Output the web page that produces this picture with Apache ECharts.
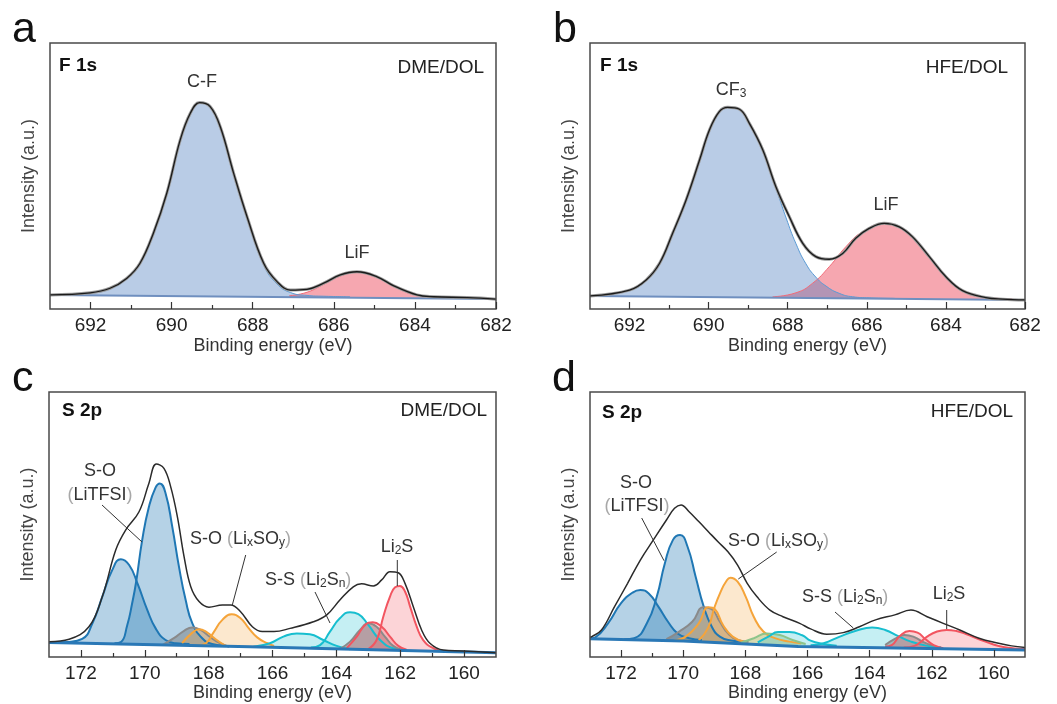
<!DOCTYPE html>
<html>
<head>
<meta charset="utf-8">
<title>XPS F 1s / S 2p</title>
<script src="https://cdn.jsdelivr.net/npm/echarts@6/dist/echarts.min.js"></script>
<style>
  html, body { margin: 0; padding: 0; background: #fff; }
  #chart { width: 1057px; height: 704px; }
</style>
</head>
<body>
<div id="chart"></div>
<script>
// tick values
var fTicks = [682, 684, 686, 688, 690, 692];
var fMinor = [683, 685, 687, 689, 691];
var sTicks = [160, 162, 164, 166, 168, 170, 172];
var sMinor = [161, 163, 165, 167, 169, 171];

// (a) F 1s, DME/DOL  -- [binding energy, intensity]
var aEnvelope = [[693,5.3],[692.01,6.1],[691.52,7.8],[691.11,11.5],[690.78,17.2],[690.45,28.5],[690.12,43.5],[689.79,63.5],[689.54,73.6],[689.31,77.6],[689.05,76.1],[688.80,68.5],[688.47,51.0],[688.14,34.7],[687.73,17.2],[687.40,10.3],[687.07,7.1],[686.66,7.4],[686.25,9.7],[685.84,12.8],[685.43,14.0],[684.93,12.1],[684.52,8.7],[683.95,5.3],[683.54,4.6],[682.71,4.3],[682,3.7]];
var aCF = [[693,5.3],[692.01,6.0],[691.52,7.6],[691.11,11.3],[690.78,17.0],[690.45,28.3],[690.12,43.3],[689.79,63.3],[689.54,73.3],[689.31,77.3],[689.05,75.8],[688.80,68.3],[688.47,50.8],[688.14,34.4],[687.73,16.6],[687.40,9.4],[687.07,6.2],[686.66,5.1],[686.25,4.8],[685.6,4.6]];
var aLiF = [[687.1,5.0],[686.66,6.3],[686.25,9.3],[685.84,12.4],[685.43,13.8],[684.93,12.0],[684.52,8.5],[683.95,5.2],[683.54,4.6],[683.0,4.3]];
var aBase = [[693,5.3],[682,3.8]];

// (b) F 1s, HFE/DOL
var bEnvelope = [[693,4.9],[692.00,7.1],[691.58,10.9],[691.24,17.2],[690.91,28.5],[690.57,41.0],[690.23,56.0],[689.98,67.3],[689.73,74.2],[689.52,75.8],[689.22,75.1],[688.97,69.8],[688.63,59.8],[688.30,46.0],[687.96,34.7],[687.62,24.7],[687.29,19.7],[686.95,18.7],[686.61,20.9],[686.28,26.6],[685.94,30.3],[685.56,32.2],[685.18,30.9],[684.85,27.2],[684.42,19.7],[684.00,12.1],[683.58,6.9],[682.99,4.3],[682.57,3.7],[682,3.4]];
var bCF3 = [[693,4.9],[692.00,7.0],[691.58,10.7],[691.24,17.0],[690.91,28.3],[690.57,40.8],[690.23,55.8],[689.98,67.1],[689.73,74.0],[689.52,75.6],[689.22,74.9],[688.97,69.5],[688.63,59.4],[688.30,45.5],[688.04,34.2],[687.79,24.5],[687.54,17.0],[687.29,12.0],[687.03,8.6],[686.70,5.9],[686.36,4.6],[685.94,4.2],[685.3,4.0]];
var bLiF = [[688.38,4.6],[687.79,6.1],[687.37,9.7],[686.95,15.9],[686.53,23.4],[686.11,29.0],[685.56,32.0],[685.18,30.8],[684.85,27.0],[684.42,19.5],[684.00,12.0],[683.58,6.8],[682.99,4.4],[682.32,3.8]];
var bBase = [[693,4.9],[682,3.4]];

// (c) S 2p, DME/DOL
var cEnvelope = [[173,5.8],[172.37,6.7],[171.75,11.4],[171.33,22.8],[170.91,40.4],[170.60,47.9],[170.18,54.8],[169.87,65.6],[169.64,72.8],[169.40,71.2],[169.19,64.3],[168.98,53.0],[168.77,37.9],[168.56,26.5],[168.30,20.9],[167.99,18.8],[167.57,19.6],[167.31,19.6],[167.00,17.1],[166.63,11.4],[166.32,9.6],[165.95,9.6],[165.45,10.8],[164.72,13.3],[164.30,15.9],[163.89,21.5],[163.47,26.5],[163.21,27.6],[162.84,26.8],[162.58,29.1],[162.32,32.2],[162.06,31.8],[161.85,27.8],[161.59,19.0],[161.33,10.2],[161.07,5.2],[160.65,2.6],[160.02,2.3],[159,1.6]];
var cTfsi1 = [[173,5.5],[172.4,5.7],[171.96,6.8],[171.64,12.7],[171.33,22.8],[171.02,32.8],[170.75,36.9],[170.49,34.7],[170.23,27.8],[169.92,17.7],[169.66,10.8],[169.35,6.4],[169.03,5.2],[168.6,4.9]];
var cTfsi2 = [[170.95,5.2],[170.75,5.6],[170.55,12.0],[170.40,20.0],[170.27,28.4],[170.08,44.2],[169.87,56.7],[169.66,64.0],[169.53,65.5],[169.35,61.8],[169.14,49.2],[168.93,34.1],[168.72,21.5],[168.51,12.7],[168.20,7.1],[167.89,4.9],[167.5,4.3]];
var cGrayA = [[169.45,4.5],[169.09,7.1],[168.77,9.9],[168.51,11.1],[168.25,10.2],[167.99,7.9],[167.68,5.4],[167.36,3.9]];
var cSoxA = [[168.83,5.2],[168.51,9.2],[168.30,10.5],[168.04,9.2],[167.78,6.7],[167.47,4.2]];
var cSoxB = [[168.35,4.4],[168.09,5.2],[167.83,9.6],[167.57,14.0],[167.28,16.1],[167.00,14.6],[166.74,10.8],[166.48,7.4],[166.16,5.2],[165.95,4.2]];
var cSsA = [[166.6,3.9],[166.08,5.2],[165.66,7.7],[165.24,8.9],[164.83,8.6],[164.41,6.4],[163.99,4.2],[163.57,2.9]];
var cSsB = [[164.8,3.6],[164.51,4.5],[164.20,9.6],[163.89,14.6],[163.57,16.9],[163.31,16.2],[163.00,12.1],[162.63,6.4],[162.22,3.3],[161.80,2.6]];
var cGrayB = [[163.89,3.1],[163.57,5.8],[163.26,10.2],[163.00,12.7],[162.74,11.4],[162.48,7.7],[162.22,4.2],[161.95,2.7]];
var cLi2sA = [[163.68,3.3],[163.36,7.7],[163.10,12.1],[162.86,13.1],[162.58,11.4],[162.32,7.7],[162.06,4.2],[161.80,2.7]];
var cLi2sB = [[163.0,3.0],[162.74,6.4],[162.53,15.2],[162.32,22.8],[162.16,26.3],[162.01,26.8],[161.85,24.7],[161.69,19.0],[161.48,11.4],[161.28,6.4],[160.96,3.3],[160.65,2.3]];
var cBase = [[173,5.5],[166.7,3.9],[159,1.6]];

// (d) S 2p, HFE/DOL
var dEnvelope = [[173,7.5],[172.94,7.7],[172.63,10.2],[172.21,19.0],[171.79,27.8],[171.38,36.6],[170.96,44.2],[170.54,51.7],[170.28,56.1],[170.07,57.4],[169.81,54.8],[169.50,51.1],[169.19,47.3],[168.88,43.5],[168.56,39.7],[168.25,34.7],[167.94,27.8],[167.63,22.8],[167.21,17.7],[166.79,15.2],[166.25,12.7],[165.90,10.6],[165.38,8.6],[164.85,9.2],[164.33,11.4],[163.81,14.0],[163.19,15.9],[162.67,17.7],[162.15,15.2],[161.63,12.7],[161.10,10.2],[160.48,7.1],[159.85,5.2],[159.43,4.2],[159,3.6]];
var dTfsi1 = [[173,6.9],[172.83,7.4],[172.42,12.7],[172.00,20.3],[171.63,24.3],[171.38,25.3],[171.11,24.0],[170.80,19.0],[170.49,13.3],[170.18,8.9],[169.81,7.1],[169.4,6.4]];
var dTfsi2 = [[171.9,6.7],[171.58,7.1],[171.17,12.7],[170.85,22.8],[170.59,35.4],[170.33,44.2],[170.10,46.0],[169.86,41.6],[169.60,30.3],[169.34,19.0],[169.08,11.4],[168.82,7.7],[168.46,6.2],[168.1,5.8]];
var dGrayA = [[170.54,6.7],[170.13,9.6],[169.71,13.3],[169.34,18.8],[169.08,18.0],[168.82,13.3],[168.56,8.9],[168.25,6.4],[167.9,5.8]];
var dSoxA = [[170.3,6.1],[169.92,7.7],[169.50,12.7],[169.19,18.8],[168.98,18.0],[168.72,12.1],[168.41,7.7],[168.04,5.8]];
var dSoxB = [[169.5,6.3],[169.2,11.0],[169.0,18.5],[168.8,24.5],[168.62,28.5],[168.48,29.9],[168.25,28.4],[167.99,22.8],[167.73,15.2],[167.42,9.6],[167.05,7.1],[166.58,5.8],[166.2,5.2]];
var dGreen = [[168.14,5.4],[167.73,7.1],[167.31,8.9],[166.89,8.3],[166.48,6.4],[166.06,4.9]];
var dSsA = [[167.6,5.5],[167.26,7.7],[166.95,9.4],[166.58,9.4],[166.17,8.2],[165.90,6.2],[165.48,4.9],[165.06,4.2]];
var dSsB = [[165.9,4.4],[165.48,5.2],[164.96,7.7],[164.44,9.9],[163.92,11.1],[163.50,10.2],[163.08,7.9],[162.67,5.8],[162.15,4.2],[161.7,3.7]];
var dGrayB = [[163.50,4.5],[163.19,6.8],[162.88,8.3],[162.56,7.5],[162.25,5.5],[161.94,4.2]];
var dLi2sA = [[163.5,3.9],[163.29,4.5],[163.03,7.9],[162.72,9.8],[162.46,9.2],[162.20,6.7],[161.94,4.5],[161.63,3.3]];
var dLi2sB = [[162.9,3.6],[162.56,4.2],[162.15,7.7],[161.83,9.6],[161.52,10.2],[161.21,9.8],[160.90,8.7],[160.48,6.7],[160.06,4.9],[159.65,3.7],[159,3.0]];
var dBase = [[173,6.9],[170,6.0],[166.3,4.0],[159,2.6]];

var FONT = "'Liberation Sans', Arial, sans-serif";

// colours for the fitted components
var C = {
  fBlue:  ['#5b9bd5', 'rgba(70,120,190,0.38)'],
  fRed:   ['#f26b78', 'rgba(235,60,80,0.45)'],
  blue:   ['#1f77b4', 'rgba(31,119,180,0.33)'],
  gray:   ['#8a8a8a', 'rgba(110,110,110,0.42)'],
  orange: ['#f5a43a', 'rgba(245,164,58,0.25)'],
  green:  ['#8dc48a', 'rgba(140,190,120,0.35)'],
  cyan:   ['#17becf', 'rgba(23,190,207,0.25)'],
  red:    ['#f25560', 'rgba(242,85,96,0.25)']
};

var grids = [
  { left: 50, top: 43, width: 446, height: 266 },
  { left: 590, top: 43, width: 435, height: 266 },
  { left: 49, top: 392, width: 447, height: 265 },
  { left: 590, top: 392, width: 435, height: 265 }
];

function peak(data, p, col, w) {
  return {
    type: 'line', xAxisIndex: p * 2, yAxisIndex: p, data: data,
    smooth: 0.5, symbol: 'none', silent: true,
    lineStyle: { color: col[0], width: w || 2 },
    areaStyle: { color: col[1], opacity: 1 }
  };
}
function mask(data, p, color, w) {
  return {
    type: 'line', xAxisIndex: p * 2, yAxisIndex: p, data: data, z: 3,
    symbol: 'none', silent: true,
    lineStyle: { color: color, width: w },
    areaStyle: { color: '#fff', opacity: 1 }
  };
}
function envelope(data, p, color, w) {
  return {
    type: 'line', xAxisIndex: p * 2, yAxisIndex: p, data: data, z: 4,
    smooth: 0.4, symbol: 'none', silent: true,
    lineStyle: { color: color, width: w }
  };
}

var xAxes = [], yAxes = [];
grids.forEach(function (g, i) {
  var isF = i < 2;
  var ticks = isF ? fTicks : sTicks;
  var minor = isF ? fMinor : sMinor;
  var range = isF ? [682, 693] : [159, 173];
  xAxes.push({
    type: 'value', gridIndex: i, position: 'bottom', min: range[0], max: range[1], inverse: true, z: 6,
    axisLine: { show: false }, splitLine: { show: false },
    axisTick: { inside: true, length: 7, customValues: ticks, lineStyle: { color: '#333', width: 1.2 } },
    axisLabel: { customValues: ticks, margin: 7, fontSize: 19, color: '#222', fontFamily: FONT },
    name: 'Binding energy (eV)', nameLocation: 'middle', nameGap: isF ? 28 : 23,
    nameTextStyle: { fontSize: 18, color: '#333', fontFamily: FONT }
  });
  xAxes.push({
    type: 'value', gridIndex: i, position: 'bottom', min: range[0], max: range[1], inverse: true, z: 6,
    axisLine: { show: false }, splitLine: { show: false }, axisLabel: { show: false },
    axisTick: { inside: true, length: 4, customValues: minor, lineStyle: { color: '#333', width: 1.2 } }
  });
  yAxes.push({
    type: 'value', gridIndex: i, min: 0, max: 100,
    axisLine: { show: false }, axisTick: { show: false }, axisLabel: { show: false }, splitLine: { show: false },
    name: 'Intensity (a.u.)', nameLocation: 'middle', nameGap: 12,
    nameTextStyle: { fontSize: 18, color: '#444', fontFamily: FONT }
  });
});

var series = [
  // a
  peak(aLiF, 0, C.fRed, 1), peak(aCF, 0, C.fBlue, 1),
  mask(aBase, 0, '#6f8fbf', 2),
  envelope(aEnvelope, 0, '#9a9a9a', 3), envelope(aEnvelope, 0, '#1a1a1a', 1.3),
  // b
  peak(bLiF, 1, C.fRed, 1), peak(bCF3, 1, C.fBlue, 1),
  mask(bBase, 1, '#6f8fbf', 2),
  envelope(bEnvelope, 1, '#9a9a9a', 3), envelope(bEnvelope, 1, '#1a1a1a', 1.3),
  // c
  peak(cTfsi1, 2, C.blue), peak(cTfsi2, 2, C.blue), peak(cGrayA, 2, C.gray), peak(cSoxA, 2, C.orange),
  peak(cSoxB, 2, C.orange), peak(cSsA, 2, C.cyan), peak(cSsB, 2, C.cyan), peak(cGrayB, 2, C.gray),
  peak(cLi2sA, 2, C.red), peak(cLi2sB, 2, C.red),
  mask(cBase, 2, '#2a78b6', 3),
  envelope(cEnvelope, 2, '#2b2b2b', 1.5),
  // d
  peak(dTfsi1, 3, C.blue), peak(dTfsi2, 3, C.blue), peak(dGrayA, 3, C.gray), peak(dSoxA, 3, C.orange),
  peak(dSoxB, 3, C.orange), peak(dGreen, 3, C.green), peak(dSsA, 3, C.cyan), peak(dSsB, 3, C.cyan),
  peak(dGrayB, 3, C.gray), peak(dLi2sA, 3, C.red), peak(dLi2sB, 3, C.red),
  mask(dBase, 3, '#2a78b6', 3),
  envelope(dEnvelope, 3, '#2b2b2b', 1.5)
];

// annotation helpers
var rich = {
  n: { fontSize: 18, lineHeight: 20, fill: '#333', fontFamily: FONT },
  p: { fontSize: 18, lineHeight: 20, fill: '#a8a8a8', fontFamily: FONT },
  s: { fontSize: 12, lineHeight: 6, verticalAlign: 'bottom', fill: '#333', fontFamily: FONT }
};
function txt(x, y, text, opt) {
  opt = opt || {};
  return {
    type: 'text', x: x, y: y, z: 10, silent: true,
    style: {
      text: text, rich: rich, fill: opt.color || '#333',
      font: (opt.weight || 'normal') + ' ' + (opt.size || 18) + 'px ' + FONT,
      align: opt.align || 'center', verticalAlign: 'middle'
    }
  };
}
function lead(x1, y1, x2, y2) {
  return { type: 'line', z: 10, silent: true, shape: { x1: x1, y1: y1, x2: x2, y2: y2 }, style: { stroke: '#333', lineWidth: 1 } };
}

var graphics = [
  txt(12, 30, 'a', { size: 43, align: 'left', color: '#111' }),
  txt(553, 30, 'b', { size: 43, align: 'left', color: '#111' }),
  txt(12, 379, 'c', { size: 43, align: 'left', color: '#111' }),
  txt(552, 379, 'd', { size: 43, align: 'left', color: '#111' }),

  txt(59, 66, 'F 1s', { size: 19, weight: 'bold', align: 'left', color: '#111' }),
  txt(484, 68, 'DME/DOL', { size: 19, align: 'right', color: '#222' }),
  txt(600, 66, 'F 1s', { size: 19, weight: 'bold', align: 'left', color: '#111' }),
  txt(1008, 68, 'HFE/DOL', { size: 19, align: 'right', color: '#222' }),
  txt(62, 411, 'S 2p', { size: 19, weight: 'bold', align: 'left', color: '#111' }),
  txt(487, 411, 'DME/DOL', { size: 19, align: 'right', color: '#222' }),
  txt(602, 413, 'S 2p', { size: 19, weight: 'bold', align: 'left', color: '#111' }),
  txt(1013, 412, 'HFE/DOL', { size: 19, align: 'right', color: '#222' }),

  // a
  txt(202, 82, 'C-F'),
  txt(357, 253, 'LiF'),
  // b
  txt(731, 90, '{n|CF}{s|3}'),
  txt(886, 205, 'LiF'),
  // c
  txt(100, 471, 'S-O'),
  txt(100, 495, '{p|(}{n|LiTFSI}{p|)}'),
  lead(102, 505, 142, 542),
  txt(190, 539, '{n|S-O }{p|(}{n|Li}{s|x}{n|SO}{s|y}{p|)}', { align: 'left' }),
  lead(245.7, 555, 232.3, 605),
  txt(265, 580, '{n|S-S }{p|(}{n|Li}{s|2}{n|S}{s|n}{p|)}', { align: 'left' }),
  lead(315, 592, 330, 623),
  txt(397, 547, '{n|Li}{s|2}{n|S}'),
  lead(397.3, 560, 397.3, 586),
  // d
  txt(636, 483, 'S-O'),
  txt(637, 506, '{p|(}{n|LiTFSI}{p|)}'),
  lead(641.7, 518, 664, 560.7),
  txt(728, 541, '{n|S-O }{p|(}{n|Li}{s|x}{n|SO}{s|y}{p|)}', { align: 'left' }),
  lead(776.7, 552, 738.3, 579),
  txt(802, 597, '{n|S-S }{p|(}{n|Li}{s|2}{n|S}{s|n}{p|)}', { align: 'left' }),
  lead(835, 612, 853.3, 628),
  txt(949, 594, '{n|Li}{s|2}{n|S}'),
  lead(946.7, 610, 946.7, 629)
];

var chart = echarts.init(document.getElementById('chart'), null, { renderer: 'canvas' });
chart.setOption({
  animation: false,
  backgroundColor: '#fff',
  textStyle: { fontFamily: FONT },
  grid: grids.map(function (g) {
    return Object.assign({ show: true, borderColor: '#4a4a4a', borderWidth: 1.5, backgroundColor: 'transparent', z: 5 }, g);
  }),
  xAxis: xAxes,
  yAxis: yAxes,
  series: series,
  graphic: graphics
});
window.addEventListener('resize', function () { chart.resize(); });
</script>
</body>
</html>
